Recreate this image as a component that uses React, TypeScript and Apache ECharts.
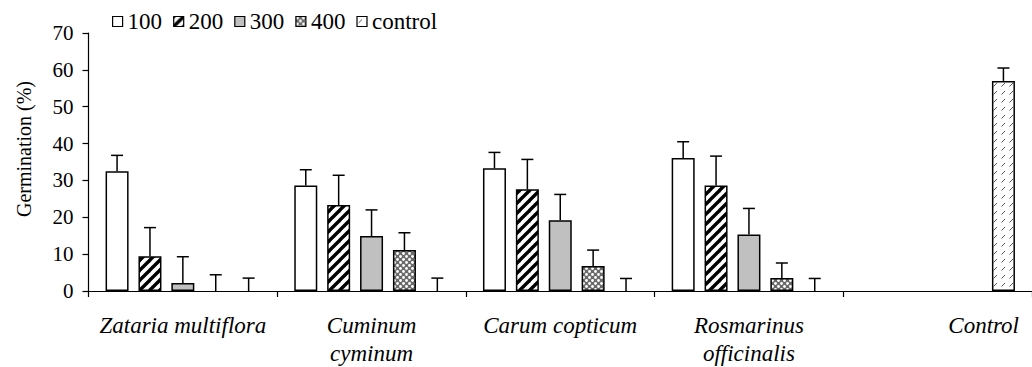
import React, { useEffect, useRef } from "react";
import * as echarts from "echarts";

const categories = [
  "Zataria multiflora",
  "Cuminum\ncyminum",
  "Carum copticum",
  "Rosmarinus\nofficinalis",
  "Control",
];
const seriesNames = ["100", "200", "300", "400", "control"];

const values100 = [32.5, 28.6, 33.3, 36.1, null];
const values200 = [9.4, 23.3, 27.6, 28.6, null];
const values300 = [2.2, 14.9, 19.2, 15.3, null];
const values400 = [0, 11.1, 6.8, 3.5, null];
const valuesControl = [0, 0, 0, 0, 57.0];

const sd100 = [4.3, 4.3, 4.3, 4.4, null];
const sd200 = [7.8, 8.1, 8.1, 8.0, null];
const sd300 = [7.1, 7.1, 7.0, 7.1, null];
const sd400 = [4.4, 4.7, 4.3, 4.1, null];
const sdControl = [3.5, 3.5, 3.4, 3.4, 3.5];

const yMin = 0;
const yMax = 70;
const yStep = 10;

const FONT = "Liberation Serif";
const BAR_W = 23;
const BAR_GAP = 0.43;

function makeTile(kind: string) {
  const c = document.createElement("canvas");
  let s = 10;
  if (kind === "400") s = 6;
  if (kind === "control") s = 8;
  c.width = s;
  c.height = s;
  const g = c.getContext("2d")!;
  g.fillStyle = "#fff";
  g.fillRect(0, 0, s, s);
  if (kind === "200") {
    g.strokeStyle = "#000";
    g.lineWidth = 3.4;
    for (const o of [-s, 0, s]) {
      g.beginPath();
      g.moveTo(o - 1, s + 1);
      g.lineTo(o + s + 1, -1);
      g.stroke();
    }
  } else if (kind === "400") {
    g.fillStyle = "#6a6a6a";
    g.fillRect(0, 0, s, s);
    g.fillStyle = "#fff";
    g.beginPath();
    g.arc(1.5, 1.5, 1.4, 0, Math.PI * 2);
    g.fill();
    g.beginPath();
    g.arc(4.5, 4.5, 1.4, 0, Math.PI * 2);
    g.fill();
  } else if (kind === "control") {
    g.strokeStyle = "#555";
    g.lineWidth = 1;
    g.beginPath();
    g.moveTo(1.5, 6.5);
    g.lineTo(5, 3);
    g.stroke();
  }
  return { image: c, repeat: "repeat", imageWidth: s, imageHeight: s } as any;
}

export default function App() {
  const ref = useRef<HTMLDivElement>(null);
  useEffect(() => {
    if (!ref.current) return;
    const chart = echarts.init(ref.current, undefined, { renderer: "svg" });
    const allValues = [values100, values200, values300, values400, valuesControl];
    const allSd = [sd100, sd200, sd300, sd400, sdControl];
    const fills: any[] = ["#fff", makeTile("200"), "#c0c0c0", makeTile("400"), makeTile("control")];

    const errData: any[] = [];
    allValues.forEach((vals, s) => {
      vals.forEach((v, ci) => {
        const sd = allSd[s][ci];
        if (v !== null && sd !== null) errData.push([ci, s, v, v + sd]);
      });
    });

    const barSeries = allValues.map((vals, s) => ({
      name: seriesNames[s],
      type: "bar",
      data: vals.map((v) =>
        v === null ? "-" : v === 0 ? { value: v, itemStyle: { borderWidth: 0 } } : v
      ),
      barWidth: BAR_W,
      barGap: BAR_GAP * 100 + "%",
      itemStyle: { color: fills[s], borderColor: "#000", borderWidth: 1.5 },
      z: 2,
    }));

    chart.setOption({
      animation: false,
      backgroundColor: "#fff",
      textStyle: { fontFamily: FONT, color: "#000" },
      legend: {
        data: seriesNames,
        left: 107,
        top: 5,
        icon: "rect",
        itemWidth: 10,
        itemHeight: 10,
        itemGap: 11,
        textStyle: { fontFamily: FONT, fontSize: 23, color: "#000" },
        itemStyle: { borderColor: "#000", borderWidth: 1.2 },
      },
      grid: { left: 88.5, top: 33, width: 950, height: 259, containLabel: false },
      xAxis: {
        type: "category",
        data: categories,
        axisLine: { lineStyle: { color: "#000", width: 1.2 } },
        axisTick: { show: true, length: 6, lineStyle: { color: "#000", width: 1.2 } },
        axisLabel: {
          fontFamily: FONT,
          fontSize: 23,
          fontStyle: "italic",
          color: "#000",
          lineHeight: 28,
          margin: 20,
          interval: 0,
          formatter: (v: string) => (v === "Control" ? "{r|" + v + "}" : v),
          rich: {
            r: { fontFamily: FONT, fontSize: 23, fontStyle: "italic", color: "#000", padding: [0, 0, 0, 92] },
          },
        },
      },
      yAxis: {
        type: "value",
        min: yMin,
        max: yMax,
        interval: yStep,
        name: "Germination (%)",
        nameLocation: "middle",
        nameGap: 55,
        nameTextStyle: { fontFamily: FONT, fontSize: 20, color: "#000", padding: [0, 0, 0, 26] },
        axisLine: { show: true, lineStyle: { color: "#000", width: 1.2 } },
        axisTick: { show: true, length: 6, lineStyle: { color: "#000", width: 1.2 } },
        axisLabel: { fontFamily: FONT, fontSize: 21, color: "#000", margin: 15 },
        splitLine: { show: false },
      },
      series: [
        ...barSeries,
        {
          type: "custom",
          name: "errors",
          z: 5,
          data: errData,
          encode: { x: 0, y: [2, 3] },
          renderItem: (params: any, api: any) => {
            const ci = api.value(0);
            const s = api.value(1);
            const base = api.coord([ci, api.value(2)]);
            const top = api.coord([ci, api.value(3)]);
            const x = base[0] + (s - 2) * BAR_W * (1 + BAR_GAP);
            const st = { stroke: "#000", lineWidth: 1.5 };
            return {
              type: "group",
              children: [
                { type: "line", shape: { x1: x, y1: base[1], x2: x, y2: top[1] }, style: st },
                { type: "line", shape: { x1: x - 6, y1: top[1], x2: x + 6, y2: top[1] }, style: st },
              ],
            };
          },
        },
      ],
    } as any);
    return () => chart.dispose();
  }, []);
  return (
    <div
      ref={ref}
      style={{ position: "absolute", left: 0, top: 0, width: 1032, height: 367, overflow: "hidden" }}
    />
  );
}
